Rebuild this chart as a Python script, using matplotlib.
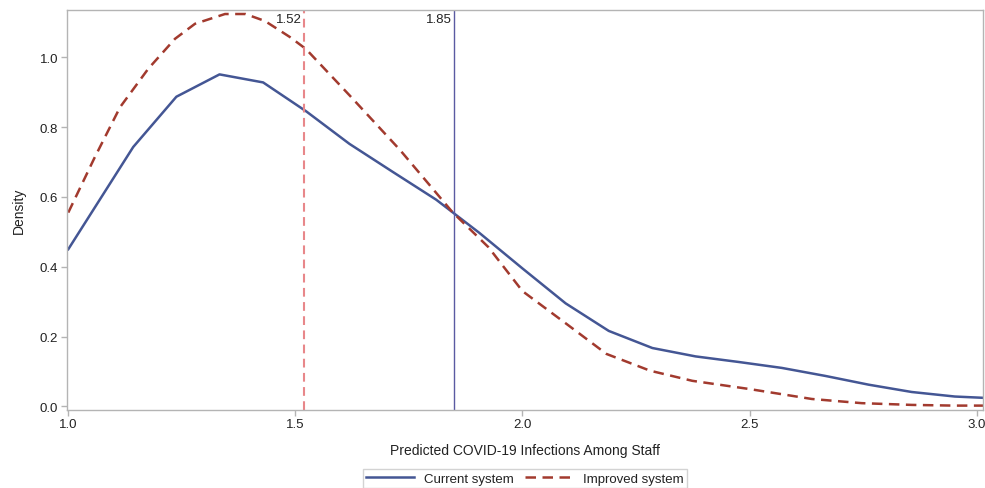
import matplotlib
matplotlib.use("Agg")
import matplotlib.pyplot as plt
from matplotlib.lines import Line2D

plt.rcParams['font.family'] = ['Liberation Sans', 'DejaVu Sans']

# Kernel density estimates of predicted staff infections
current_x = [1.0, 1.143, 1.238, 1.333, 1.429, 1.524, 1.619, 1.714, 1.810, 1.905,
             2.0, 2.095, 2.190, 2.286, 2.381, 2.476, 2.571, 2.667, 2.762, 2.857,
             2.952, 3.02]
current_y = [0.45, 0.743, 0.887, 0.951, 0.928, 0.845, 0.752, 0.672, 0.592, 0.497,
             0.395, 0.295, 0.216, 0.167, 0.143, 0.127, 0.110, 0.087, 0.062, 0.041,
             0.028, 0.024]

improved_x = [1.0, 1.057, 1.114, 1.176, 1.235, 1.279, 1.345, 1.39, 1.433, 1.488,
              1.523, 1.62, 1.73, 1.846, 1.925, 2.0, 2.097, 2.185, 2.281, 2.374,
              2.497, 2.637, 2.747, 2.857, 2.95, 3.02]
improved_y = [0.555, 0.71, 0.857, 0.967, 1.053, 1.096, 1.124, 1.124, 1.104, 1.058,
              1.024, 0.89, 0.735, 0.556, 0.456, 0.33, 0.236, 0.150, 0.102, 0.073,
              0.050, 0.021, 0.009, 0.004, 0.002, 0.002]

series_labels = ["Current system", "Improved system"]
mean_current = 1.85
mean_improved = 1.52

x_ticks = [1.0, 1.5, 2.0, 2.5, 3.0]
y_ticks = [0.0, 0.2, 0.4, 0.6, 0.8, 1.0]

blue = "#445694"
red = "#A23A2E"
light_red = "#E8878A"
ref_blue = "#5A5AA2"
grey = "#B4B4B4"
text_c = "#222222"

fig = plt.figure(figsize=(9.85, 4.89), dpi=100)
ax = fig.add_axes([0.0677, 0.1595, 0.9303, 0.818])

ax.plot(current_x, current_y, color=blue, lw=1.8, solid_joinstyle='round')
ax.plot(improved_x, improved_y, color=red, lw=1.8, dashes=(4.2, 2.6))

ax.axvline(mean_improved, color=light_red, lw=1.5, dashes=(4.2, 2.6))
ax.axvline(mean_current, color=ref_blue, lw=1.0)

ax.set_xlim(0.9965, 3.014)
ax.set_ylim(-0.0106, 1.1355)

ax.annotate(f"{mean_improved:.2f}", xy=(mean_improved, 1.0), xycoords=('data', 'axes fraction'),
            xytext=(-2, -2), textcoords='offset points', ha='right', va='top',
            fontsize=9.5, color=text_c)
ax.annotate(f"{mean_current:.2f}", xy=(mean_current, 1.0), xycoords=('data', 'axes fraction'),
            xytext=(-2, -2), textcoords='offset points', ha='right', va='top',
            fontsize=9.5, color=text_c)

ax.set_xticks(x_ticks)
ax.set_xticklabels([f"{v:.1f}" for v in x_ticks])
ax.set_yticks(y_ticks)
ax.set_yticklabels([f"{v:.1f}" for v in y_ticks])
ax.tick_params(axis='both', direction='out', length=4, width=1, color=grey,
               labelsize=9.5, labelcolor=text_c, pad=2)

for s in ax.spines.values():
    s.set_color(grey)
    s.set_linewidth(1.0)

ax.set_xlabel("Predicted COVID-19 Infections Among Staff", fontsize=10, color=text_c, labelpad=9)
ax.set_ylabel("Density", fontsize=10, color=text_c, labelpad=10)

handles = [Line2D([], [], color=blue, lw=1.8),
           Line2D([], [], color=red, lw=1.8, dashes=(4.2, 2.6))]
leg = ax.legend(handles, series_labels, loc='upper center', bbox_to_anchor=(0.5, -0.148),
                ncol=2, frameon=True, fancybox=False, fontsize=9.5, handlelength=3.6,
                columnspacing=0.9, handletextpad=0.75, borderpad=0.25, borderaxespad=0)
leg.get_frame().set_edgecolor("#C8C8C8")
leg.get_frame().set_linewidth(1.0)
for t in leg.get_texts():
    t.set_color(text_c)

fig.savefig("out.png", dpi=100)
